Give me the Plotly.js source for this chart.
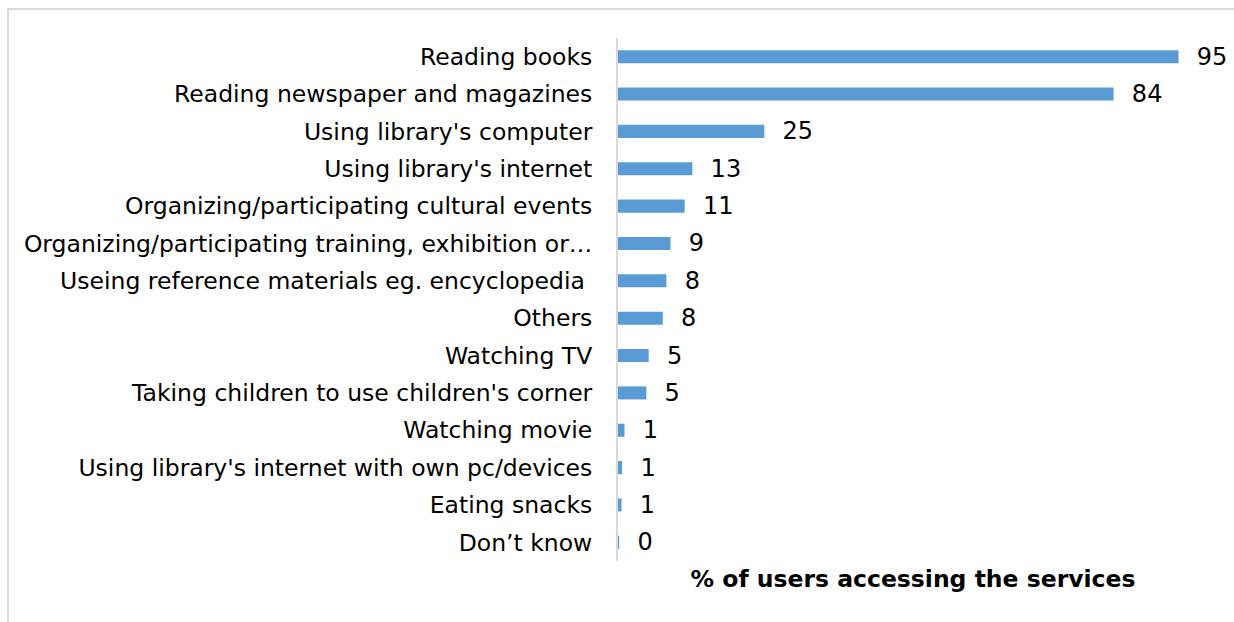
<!DOCTYPE html>
<html>
<head>
<meta charset="utf-8">
<script src="https://cdn.plot.ly/plotly-3.0.1.min.js"></script>
<style>
  html, body { margin: 0; padding: 0; background: #fff; }
  #chart { width: 1234px; height: 622px; }
  #frame { position: absolute; left: 7px; top: 8px; width: 1240px; height: 640px;
           border-top: 2px solid #d9d9d9; border-left: 2px solid #d9d9d9; pointer-events: none; }
</style>
</head>
<body>
<div id="chart"></div>
<div id="frame"></div>
<script>
const categories = [
  "Reading books",
  "Reading newspaper and magazines",
  "Using library's computer",
  "Using library's internet",
  "Organizing/participating cultural events",
  "Organizing/participating training, exhibition or…",
  "Useing reference materials eg. encyclopedia\u00a0",
  "Others",
  "Watching TV",
  "Taking children to use children's corner",
  "Watching movie",
  "Using library's internet with own pc/devices",
  "Eating snacks",
  "Don’t know"
];
const values = [95, 84, 24.8, 12.6, 11.3, 8.9, 8.2, 7.6, 5.2, 4.8, 1.1, 0.7, 0.6, 0.2];
const labels = ["95", "84", "25", "13", "11", "9", "8", "8", "5", "5", "1", "1", "1", "0"];
const xTitle = "% of users accessing the services";

const FONT = 'DejaVu Sans, sans-serif';

const trace = {
  type: 'bar',
  orientation: 'h',
  x: values,
  y: categories,
  text: labels.map(s => '\u00a0\u00a0' + s),
  textposition: 'outside',
  constraintext: 'none',
  cliponaxis: false,
  textfont: { family: FONT, size: 24, color: '#000' },
  marker: { color: '#5b9bd5' },
  hoverinfo: 'x+y'
};

const layout = {
  width: 1234, height: 622,
  margin: { l: 618, r: 26, t: 38, b: 61, pad: 0 },
  paper_bgcolor: '#fff', plot_bgcolor: '#fff',
  bargap: 0.65,
  showlegend: false,
  font: { family: FONT, size: 23.5, color: '#000' },
  xaxis: {
    range: [0, 100],
    showgrid: false, zeroline: false, showticklabels: false, ticks: '',
    showline: false,
    title: { text: xTitle, font: { family: FONT, size: 23.5, color: '#000', weight: 'bold' }, standoff: 9 }
  },
  yaxis: {
    autorange: 'reversed',
    automargin: false,
    showgrid: false, zeroline: false,
    showline: true, linecolor: '#d9d9d9', linewidth: 2,
    ticks: '', ticklabelstandoff: 19,
    tickfont: { family: FONT, size: 23.5, color: '#000' }
  }
};

Plotly.newPlot('chart', [trace], layout, { displayModeBar: false, staticPlot: true });
</script>
</body>
</html>
